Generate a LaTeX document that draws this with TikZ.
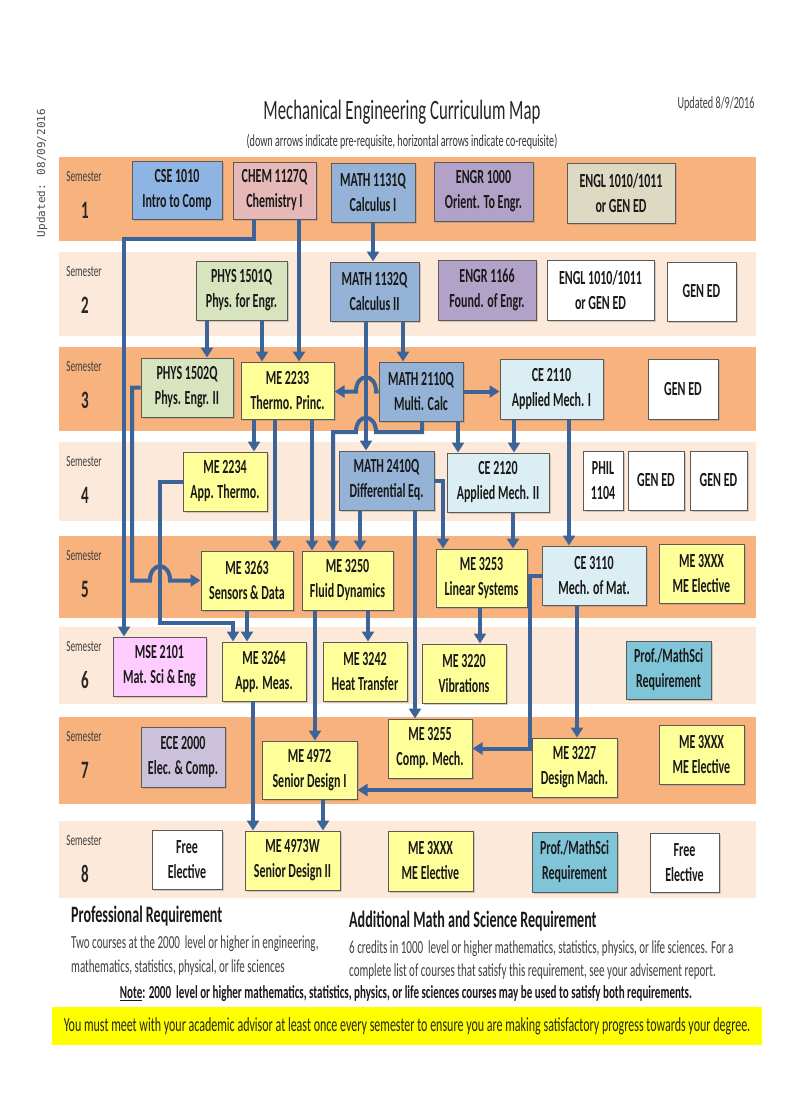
\documentclass[tikz,border=0pt]{standalone}
\usepackage{fontspec}
\setmainfont{Carlito}[FakeStretch = 0.6]
\newfontfamily\stampfont{DejaVu Sans Mono}
\usetikzlibrary{arrows.meta}
\usetikzlibrary{shadows}

\definecolor{banddark}{RGB}{247,178,126}
\definecolor{bandlight}{RGB}{253,233,217}
\definecolor{cseblue}{RGB}{142,180,227}
\definecolor{chempink}{RGB}{230,185,184}
\definecolor{mathblue}{RGB}{149,179,215}
\definecolor{engrpurple}{RGB}{179,162,199}
\definecolor{engltan}{RGB}{221,217,195}
\definecolor{physgreen}{RGB}{215,228,189}
\definecolor{meyellow}{RGB}{255,255,153}
\definecolor{cecyan}{RGB}{219,238,244}
\definecolor{msepink}{RGB}{255,204,255}
\definecolor{ecelav}{RGB}{204,193,218}
\definecolor{profteal}{RGB}{128,196,216}
\definecolor{linkblue}{RGB}{61,100,152}
\definecolor{boxgray}{RGB}{90,90,90}
\definecolor{notice}{RGB}{255,255,0}

\tikzset{
    course/.style = {rectangle, draw = boxgray, line width = 1, align = center, inner sep = 0,
        text = black!90, font = \bfseries\fontsize{20}{25}\selectfont,
        drop shadow = {shadow xshift = 1.5pt, shadow yshift = -1.5pt, opacity = 0.35}},
    prereq/.style = {draw = linkblue, line width = 4, -{Triangle[length = 10pt, width = 12pt]}},
    semlabel/.style = {font = \fontsize{15.5}{16}\selectfont, text = black!75},
    semnum/.style = {font = \bfseries\fontsize{25}{26}\selectfont, text = black!85},
    bodytext/.style = {anchor = west, inner sep = 0, text = black!75, font = \fontsize{18.4}{19}\selectfont},
    headtext/.style = {anchor = west, inner sep = 0, text = black!90, font = \bfseries\fontsize{23.5}{24}\selectfont},
}

\begin{document}
\begin{tikzpicture}[x = 1pt, y = -1pt]
            \useasboundingbox[fill = white] (0, 0) rectangle (803, 1105);

            % heading
            \node (stamp) at (42, 173) [rotate = 90, text = black!70, font = \stampfont\fontsize{11}{11}\selectfont]{Updated: 08/09/2016};
            \node (title) at (402, 112) [text = black!85, font = \fontsize{28}{30}\selectfont]{Mechanical Engineering Curriculum Map};
            \node (subtitle) at (402, 142) [text = black!80, font = \fontsize{16.8}{18}\selectfont]{(down arrows indicate pre-requisite, horizontal arrows indicate co-requisite)};
            \node (updated) at (716, 104) [text = black!75, font = \fontsize{17}{18}\selectfont]{Updated 8/9/2016};

            % semester rows
            \fill[banddark] (59, 157) rectangle (756, 241);
            \fill[bandlight] (59, 252) rectangle (756, 336);
            \fill[banddark] (59, 347) rectangle (756, 431);
            \fill[bandlight] (59, 442) rectangle (756, 521);
            \fill[banddark] (59, 536) rectangle (756, 618);
            \fill[bandlight] (59, 627) rectangle (756, 704);
            \fill[banddark] (59, 717) rectangle (756, 804);
            \fill[bandlight] (59, 821) rectangle (756, 898);

            \node (S1) at (84, 177) [semlabel]{Semester};  \node (N1) at (85, 210) [semnum]{1};
            \node (S2) at (84, 272) [semlabel]{Semester};  \node (N2) at (85, 305) [semnum]{2};
            \node (S3) at (84, 367) [semlabel]{Semester};  \node (N3) at (85, 400) [semnum]{3};
            \node (S4) at (84, 462) [semlabel]{Semester};  \node (N4) at (85, 495) [semnum]{4};
            \node (S5) at (84, 556) [semlabel]{Semester};  \node (N5) at (85, 589) [semnum]{5};
            \node (S6) at (84, 647) [semlabel]{Semester};  \node (N6) at (85, 680) [semnum]{6};
            \node (S7) at (84, 737) [semlabel]{Semester};  \node (N7) at (85, 770) [semnum]{7};
            \node (S8) at (84, 841) [semlabel]{Semester};  \node (N8) at (85, 874) [semnum]{8};

            % semester 1
            \node (CSE1010) at (177, 190) [course, fill = cseblue, minimum width = 90, minimum height = 58]{CSE 1010\\Intro to Comp};
            \node (CHEM1127) at (274.5, 190.5) [course, fill = chempink, minimum width = 83, minimum height = 57]{CHEM 1127Q\\Chemistry I};
            \node (MATH1131) at (373, 192.5) [course, fill = mathblue, minimum width = 84, minimum height = 59]{MATH 1131Q\\Calculus I};
            \node (ENGR1000) at (483.5, 191.5) [course, fill = engrpurple, minimum width = 99, minimum height = 59]{ENGR 1000\\Orient. To Engr.};
            \node (ENGLa) at (621, 193) [course, fill = engltan, minimum width = 108, minimum height = 60]{ENGL 1010/1011\\or GEN ED};

            % semester 2
            \node (PHYS1501) at (241.5, 290.5) [course, fill = physgreen, minimum width = 91, minimum height = 59]{PHYS 1501Q\\Phys. for Engr.};
            \node (MATH1132) at (374.5, 291.5) [course, fill = mathblue, minimum width = 89, minimum height = 59]{MATH 1132Q\\Calculus II};
            \node (ENGR1166) at (487, 290) [course, fill = engrpurple, minimum width = 98, minimum height = 60]{ENGR 1166\\Found. of Engr.};
            \node (ENGLb) at (600.5, 290) [course, fill = white, minimum width = 107, minimum height = 60]{ENGL 1010/1011\\or GEN ED};
            \node (GENEDa) at (701.5, 291.5) [course, fill = white, minimum width = 69, minimum height = 59]{GEN ED};

            % semester 3
            \node (PHYS1502) at (187, 387.5) [course, fill = physgreen, minimum width = 92, minimum height = 59]{PHYS 1502Q\\Phys. Engr. II};
            \node (ME2233) at (287.5, 390.5) [course, fill = meyellow, minimum width = 93, minimum height = 57]{ME 2233\\Thermo. Princ.};
            \node (MATH2110) at (421, 391.5) [course, fill = mathblue, minimum width = 84, minimum height = 59]{MATH 2110Q\\Multi. Calc};
            \node (CE2110) at (551.5, 389) [course, fill = cecyan, minimum width = 103, minimum height = 60]{CE 2110\\Applied Mech. I};
            \node (GENEDb) at (683, 389) [course, fill = white, minimum width = 70, minimum height = 60]{GEN ED};

            % semester 4
            \node (ME2234) at (225, 481.5) [course, fill = meyellow, minimum width = 84, minimum height = 59]{ME 2234\\App. Thermo.};
            \node (MATH2410) at (386.5, 480.5) [course, fill = mathblue, minimum width = 95, minimum height = 59]{MATH 2410Q\\Differential Eq.};
            \node (CE2120) at (498, 482.5) [course, fill = cecyan, minimum width = 102, minimum height = 59]{CE 2120\\Applied Mech. II};
            \node (PHIL1104) at (603, 480.5) [course, fill = white, minimum width = 40, minimum height = 59]{PHIL\\1104};
            \node (GENEDc) at (656, 480.5) [course, fill = white, minimum width = 56, minimum height = 59]{GEN ED};
            \node (GENEDd) at (718.5, 480.5) [course, fill = white, minimum width = 57, minimum height = 59]{GEN ED};

            % semester 5
            \node (ME3263) at (247, 580.5) [course, fill = meyellow, minimum width = 92, minimum height = 59]{ME 3263\\Sensors \& Data};
            \node (ME3250) at (347.5, 580.5) [course, fill = meyellow, minimum width = 91, minimum height = 59]{ME 3250\\Fluid Dynamics};
            \node (ME3253) at (481.5, 578) [course, fill = meyellow, minimum width = 91, minimum height = 58]{ME 3253\\Linear Systems};
            \node (CE3110) at (594, 575.5) [course, fill = cecyan, minimum width = 104, minimum height = 59]{CE 3110\\Mech. of Mat.};
            \node (MEXa) at (701.5, 573.5) [course, fill = meyellow, minimum width = 85, minimum height = 59]{ME 3XXX\\ME Elective};

            % semester 6
            \node (MSE2101) at (159.5, 666.5) [course, fill = msepink, minimum width = 93, minimum height = 59]{MSE 2101\\Mat. Sci \& Eng};
            \node (ME3264) at (264, 671.5) [course, fill = meyellow, minimum width = 84, minimum height = 59]{ME 3264\\App. Meas.};
            \node (ME3242) at (365, 671.5) [course, fill = meyellow, minimum width = 84, minimum height = 59]{ME 3242\\Heat Transfer};
            \node (ME3220) at (464, 673.5) [course, fill = meyellow, minimum width = 84, minimum height = 59]{ME 3220\\Vibrations};
            \node (PROFa) at (668.5, 670) [course, fill = profteal, minimum width = 85, minimum height = 58]{Prof./MathSci\\Requirement};

            % semester 7
            \node (ECE2000) at (183, 757) [course, fill = ecelav, minimum width = 84, minimum height = 60]{ECE 2000\\Elec. \& Comp.};
            \node (ME4972) at (309.5, 770) [course, fill = meyellow, minimum width = 95, minimum height = 58]{ME 4972\\Senior Design I};
            \node (ME3255) at (430, 748.5) [course, fill = meyellow, minimum width = 84, minimum height = 59]{ME 3255\\Comp. Mech.};
            \node (ME3227) at (574.5, 767.5) [course, fill = meyellow, minimum width = 85, minimum height = 59]{ME 3227\\Design Mach.};
            \node (MEXb) at (701.5, 754.5) [course, fill = meyellow, minimum width = 85, minimum height = 59]{ME 3XXX\\ME Elective};

            % semester 8
            \node (FREEa) at (187, 859.5) [course, fill = white, minimum width = 70, minimum height = 59]{Free\\Elective};
            \node (ME4973) at (292.5, 860.5) [course, fill = meyellow, minimum width = 95, minimum height = 59]{ME 4973W\\Senior Design II};
            \node (MEXc) at (430.5, 861) [course, fill = meyellow, minimum width = 85, minimum height = 60]{ME 3XXX\\ME Elective};
            \node (PROFb) at (574.5, 862) [course, fill = profteal, minimum width = 85, minimum height = 60]{Prof./MathSci\\Requirement};
            \node (FREEb) at (684.5, 862.5) [course, fill = white, minimum width = 69, minimum height = 59]{Free\\Elective};

            % pre-requisites
            \draw[prereq] (CHEM1127.south -| 254, 0) -- (254, 239) -- (124, 239) -- (MSE2101.north -| 124, 0);
            \draw[prereq] (CHEM1127.south -| 299, 0) -- (ME2233.north -| 299, 0);
            \draw[prereq] (MATH1131.south -| 373, 0) -- (MATH1132.north -| 373, 0);
            \draw[prereq] (PHYS1501.south -| 207, 0) -- (PHYS1502.north -| 207, 0);
            \draw[prereq] (PHYS1501.south -| 262, 0) -- (ME2233.north -| 262, 0);
            \draw[prereq] (MATH1132.south -| 366, 0) -- (MATH2410.north -| 366, 0);
            \draw[prereq] (MATH1132.south -| 403, 0) -- (MATH2110.north -| 403, 0);
            \draw[prereq] (MATH2110.west) -- (376, 391.5) .. controls (376, 372.5) and (356, 372.5) .. (356, 391.5) -- (ME2233.east |- MATH2110.west);
            \draw[prereq] (MATH2110.east) -- (CE2110.west |- MATH2110.east);
            \draw[prereq] (MATH2110.south -| 422, 0) -- (422, 432) -- (376, 432) .. controls (376, 413) and (356, 413) .. (356, 432) -- (333, 432) -- (ME3250.north -| 333, 0);
            \draw[prereq] (MATH2110.south -| 458, 0) -- (CE2120.north -| 458, 0);
            \draw[prereq] (CE2110.south -| 514, 0) -- (CE2120.north -| 514, 0);
            \draw[prereq] (CE2110.south -| 569, 0) -- (CE3110.north -| 569, 0);
            \draw[prereq] (ME2233.south -| 254, 0) -- (ME2234.north -| 254, 0);
            \draw[prereq] (ME2233.south -| 275, 0) -- (ME3263.north -| 275, 0);
            \draw[prereq] (ME2233.south -| 312, 0) -- (ME3250.north -| 312, 0);
            \draw[prereq] (MATH2410.east) -- (443, 480.5) -- (ME3253.north -| 443, 0);
            \draw[prereq] (MATH2410.south -| 360, 0) -- (ME3250.north -| 360, 0);
            \draw[prereq] (MATH2410.south -| 415, 0) -- (ME3255.north -| 415, 0);
            \draw[prereq] (CE2120.south -| 513, 0) -- (ME3253.north -| 513, 0);
            \draw[prereq] (CE3110.west) -- (530, 575.5) -- (530, 748.5) -- (ME3255.east);
            \draw[prereq] (CE3110.south -| 577, 0) -- (ME3227.north -| 577, 0);
            \draw[prereq] (PHYS1502.west) -- (132, 387.5) -- (132, 580.5) -- (150, 580.5) .. controls (150, 561.5) and (170, 561.5) .. (170, 580.5) -- (ME3263.west);
            \draw[prereq] (ME2234.west) -- (160, 481.5) -- (160, 623) -- (233, 623) -- (ME3264.north -| 233, 0);
            \draw[prereq] (ME3263.south -| 247, 0) -- (ME3264.north -| 247, 0);
            \draw[prereq] (ME3253.south -| 480, 0) -- (ME3220.north -| 480, 0);
            \draw[prereq] (ME3250.south -| 315, 0) -- (ME4972.north -| 315, 0);
            \draw[prereq] (ME3250.south -| 368, 0) -- (ME3242.north -| 368, 0);
            \draw[prereq] (ME3227.west |- 0, 790) -- (ME4972.east |- 0, 790);
            \draw[prereq] (ME3264.south -| 253, 0) -- (ME4973.north -| 253, 0);
            \draw[prereq] (ME4972.south -| 323, 0) -- (ME4973.north -| 323, 0);

            % requirements
            \node (profhead) at (71, 916) [headtext]{Professional Requirement};
            \node (proflineA) at (71, 944) [bodytext]{Two courses at the 2000\ \ level or higher in engineering,};
            \node (proflineB) at (71, 968) [bodytext]{mathematics, statistics, physical, or life sciences};
            \node (mathhead) at (349, 921) [headtext]{Additional Math and Science Requirement};
            \node (mathlineA) at (349, 949) [bodytext]{6 credits in 1000\ \ level or higher mathematics, statistics, physics, or life sciences. For a};
            \node (mathlineB) at (349, 972) [bodytext]{complete list of courses that satisfy this requirement, see your advisement report.};
            \node (note) at (406, 994) [text = black!90, font = \bfseries\fontsize{18.4}{19}\selectfont]{\underline{Note}: 2000\ \ level or higher mathematics, statistics, physics, or life sciences courses may be used to satisfy both requirements.};
            \node (advisor) at (407, 1026) [fill = notice, minimum width = 710, minimum height = 38, text = black!85, font = \fontsize{20}{21}\selectfont]{You must meet with your academic advisor at least once every semester to ensure you are making satisfactory progress towards your degree.};
\end{tikzpicture}
\end{document}
